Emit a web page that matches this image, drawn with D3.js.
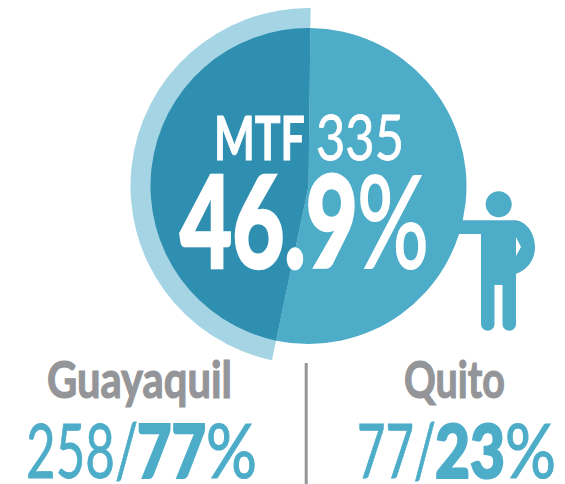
<!DOCTYPE html>
<html><head><meta charset="utf-8">
<script src="https://cdn.jsdelivr.net/npm/d3@7"></script>
<style>html,body{margin:0;padding:0;background:#fff}svg{display:block}text{font-family:Lato,"Open Sans",sans-serif}</style>
</head><body>
<svg id="c" width="565" height="484"></svg>
<script>
const groupLabel = "MTF";
const groupCount = [335];
const groupShare = [46.9];
const cities = ["Guayaquil", "Quito"];
const cityCounts = [258, 77];
const cityShares = [77, 23];

const BLUE = "#4dadc8", DARK = "#2f8fb0", LIGHT = "#a5d5e4", GRAY = "#939598";
const svg = d3.select("#c");
const cx = 308.5, cy = 186, r = 158, rOuter = 178;
const share = groupShare[0];
const tilt = 0.012;

const pie = d3.pie().sort(null).startAngle(tilt).endAngle(2 * Math.PI + tilt);
const arcs = pie([100 - share, share]);
const g = svg.append("g").attr("transform", `translate(${cx},${cy})`);
g.append("path").attr("d", d3.arc().innerRadius(0).outerRadius(rOuter)(arcs[1])).attr("fill", LIGHT);
g.append("path").attr("d", d3.arc().innerRadius(0).outerRadius(r)(arcs[0])).attr("fill", BLUE);
g.append("path").attr("d", d3.arc().innerRadius(0).outerRadius(r)(arcs[1])).attr("fill", DARK);

// person pictogram
const p = svg.append("g").attr("fill", BLUE);
p.append("circle").attr("cx", 498.7).attr("cy", 204.3).attr("r", 13);
p.append("path").attr("fill-rule", "evenodd").attr("d",
  "M458,220.3 L516,220.3 C527,222 535,234 535,247 C535,260 527,270 516,273.7 L516,324 A6.75,6.75 0 0 1 502.5,324 L502.5,285 L494.5,285 L494.5,324 A6.75,6.75 0 0 1 481,324 L481,234 L453,234 Z M516,237 L521,247 L516,256 Z");

// divider
svg.append("rect").attr("x", 304.7).attr("y", 363).attr("width", 3).attr("height", 121).attr("fill", GRAY);

function fit(str, x0, x1, base, size, weight, fill, stroke) {
  const t = svg.append("text").text(str).attr("font-size", size).attr("font-weight", weight)
    .attr("fill", fill).attr("stroke", fill).attr("stroke-width", stroke || 0);
  const sx = (x1 - x0) / t.node().getComputedTextLength();
  t.attr("transform", `translate(${x0},${base}) scale(${sx},1)`);
}
fit(groupLabel, 214, 305, 160, 61, 700, "#fff", 1);
fit(String(groupCount[0]), 316, 404, 160, 61, 400, "#fff", 0.8);
fit(share.toFixed(1), 180, 358, 268, 128, 900, "#fff", 2.5);
fit("%", 357, 429, 268, 128, 400, "#fff", 2);

fit(cities[0], 47, 232, 398, 52, 700, GRAY, 1.2);
fit(cities[1], 404, 505, 398, 52, 700, GRAY, 1.2);

fit(cityCounts[0] + "/", 26, 138, 478, 75, 400, BLUE, 0.8);
fit(cityShares[0], 137, 206, 478, 75, 900, BLUE, 2.2);
fit("%", 206, 257, 478, 75, 400, BLUE, 1.2);

fit(cityCounts[1] + "/", 357, 436, 478, 75, 400, BLUE, 0.8);
fit(cityShares[1], 435, 505, 478, 75, 900, BLUE, 2.2);
fit("%", 505, 556, 478, 75, 400, BLUE, 1.2);
</script>
</body></html>
